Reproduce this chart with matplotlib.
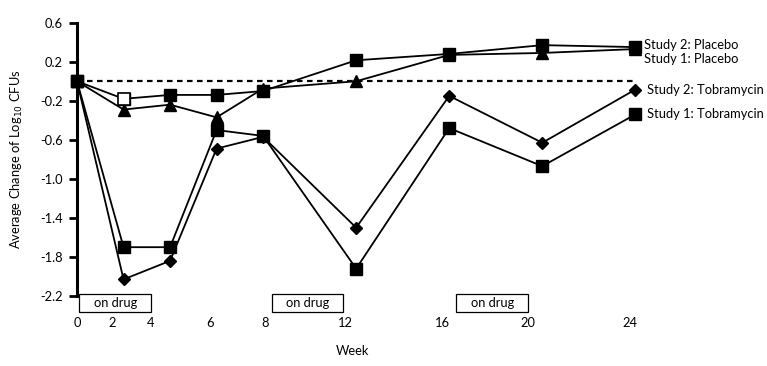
import matplotlib
matplotlib.use("Agg")
import matplotlib.pyplot as plt
from matplotlib.patches import Rectangle

plt.rcParams['font.family'] = ['Lato', 'DejaVu Sans']

# Datos (semanas y cambio medio de log10 CFU)
weeks = [0, 2, 4, 6, 8, 12, 16, 20, 24]
s2_placebo = [0.0, -0.18, -0.14, -0.14, -0.10, 0.215, 0.28, 0.37, 0.35]
s1_placebo = [0.0, -0.29, -0.24, -0.37, -0.075, 0.0, 0.27, 0.29, 0.33]
s2_tobra = [0.0, -2.03, -1.84, -0.69, -0.57, -1.50, -0.15, -0.63, -0.085]
s1_tobra = [0.0, -1.70, -1.70, -0.50, -0.56, -1.92, -0.48, -0.87, -0.34]
open_idx = 1  # semana 2 de Study 2: Placebo con marcador hueco

yticks = [0.6, 0.2, -0.2, -0.6, -1.0, -1.4, -1.8, -2.2]
ytick_labels = ['0.6', '0.2', '-0.2', '-0.6', '-1.0', '-1.4', '-1.8', '-2.2']
xtick_labels = ['0', '2', '4', '6', '8', '12', '16', '20', '24']
xtick_pos = [0, 1.5, 3.15, 5.72, 8.1, 11.53, 15.72, 19.37, 23.78]
drug_boxes = [(0.1, 3.2), (8.4, 11.45), (16.3, 19.4)]

fig = plt.figure(figsize=(7.67, 3.66), dpi=100)
ax = fig.add_axes([0.1004, 0.1913, 0.734, 0.7467])
ax.set_xlim(0, 24.2)
ax.set_ylim(-2.2, 0.6)

# linea de referencia en 0
ax.hlines(0, weeks[0], weeks[-1], colors='black', linestyles=(0, (2.5, 2)), linewidth=1.6, zorder=1)

kw = dict(color='black', linewidth=1.3, clip_on=False, zorder=3)
ax.plot(weeks, s1_tobra, marker='s', markersize=8.5, **kw)
ax.plot(weeks, s2_tobra, marker='D', markersize=6.5, **kw)
ax.plot(weeks, s1_placebo, marker='^', markersize=9, **kw)
ax.plot(weeks, s2_placebo, marker='s', markersize=8.5, **kw)
ax.plot(weeks[open_idx], s2_placebo[open_idx], marker='s', markersize=8,
        markerfacecolor='white', markeredgecolor='black', markeredgewidth=1.2,
        clip_on=False, zorder=4)

# etiquetas de series a la derecha
fs = 9.3
ax.annotate('Study 2: Placebo', (weeks[-1], s2_placebo[-1]), xytext=(6, 1.7),
            textcoords='offset points', va='center', fontsize=fs, annotation_clip=False)
ax.annotate('Study 1: Placebo', (weeks[-1], s1_placebo[-1]), xytext=(6, -7),
            textcoords='offset points', va='center', fontsize=fs, annotation_clip=False)
ax.annotate('Study 2: Tobramycin', (weeks[-1], s2_tobra[-1]), xytext=(8.5, 0),
            textcoords='offset points', va='center', fontsize=fs, annotation_clip=False)
ax.annotate('Study 1: Tobramycin', (weeks[-1], s1_tobra[-1]), xytext=(8.5, 0),
            textcoords='offset points', va='center', fontsize=fs, annotation_clip=False)

# cajas "on drug"
for x0, x1 in drug_boxes:
    ax.add_patch(Rectangle((x0, -2.36), x1 - x0, 0.18, fill=False, edgecolor='black',
                           linewidth=0.9, clip_on=False))
    ax.text((x0 + x1) / 2, -2.27, 'on drug', ha='center', va='center', fontsize=fs)

# ejes
for s in ['top', 'right', 'bottom']:
    ax.spines[s].set_visible(False)
ax.spines['left'].set_linewidth(2.2)
ax.spines['left'].set_bounds(-2.2, 0.6)
ax.set_yticks(yticks)
ax.set_yticklabels(ytick_labels)
ax.tick_params(axis='y', direction='out', length=5.5, width=2, pad=4.5, labelsize=fs)
ax.set_xticks(xtick_pos)
ax.set_xticklabels(xtick_labels)
ax.tick_params(axis='x', length=0, pad=15, labelsize=fs)

ax.set_ylabel('Average Change of Log$_{10}$ CFUs', fontsize=fs)
ax.yaxis.set_label_coords(-0.093, 0.5)
ax.set_xlabel('Week', fontsize=fs)
ax.xaxis.set_label_coords(0.49, -0.18)

fig.savefig('out.png', dpi=100)
